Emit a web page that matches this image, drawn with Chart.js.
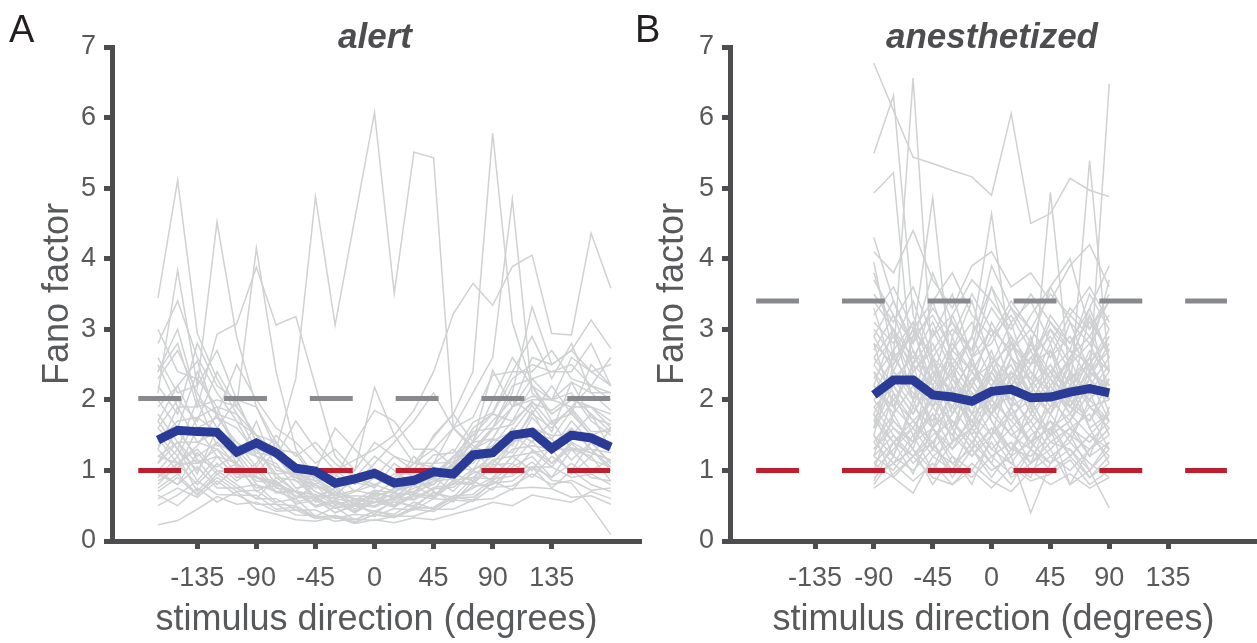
<!DOCTYPE html>
<html><head><meta charset="utf-8">
<script src="https://cdn.jsdelivr.net/npm/chart.js@4.4.1/dist/chart.umd.min.js"></script>
<style>
html,body{margin:0;padding:0;background:#fff;width:1257px;height:643px;overflow:hidden;}
canvas{position:absolute;top:0;}
#cA{left:0;}
#cB{left:648px;}
.lbl{position:absolute;font-family:"Liberation Sans",Arial,Helvetica,sans-serif;white-space:nowrap;line-height:1;}
.ttl{font-weight:bold;font-style:italic;font-size:35px;color:#4d4d4f;width:400px;text-align:center;}
.pan{font-size:38px;color:#231f20;}
</style></head><body>
<canvas id="cA" width="648" height="643"></canvas>
<canvas id="cB" width="609" height="643"></canvas>
<div class="lbl pan" style="left:9px;top:10px;">A</div>
<div class="lbl pan" style="left:635px;top:10px;">B</div>
<div class="lbl ttl" style="left:175px;top:18px;">alert</div>
<div class="lbl ttl" style="left:792px;top:18px;">anesthetized</div>
<script>
// ---------------- data ----------------
const xTickValues = [-135, -90, -45, 0, 45, 90, 135];
const yTickValues = [0, 1, 2, 3, 4, 5, 6, 7];
const refDirs = [-180, 180];

const dirsAlert = [-165,-150,-135,-120,-105,-90,-75,-60,-45,-30,-15,0,15,30,45,60,75,90,105,120,135,150,165,180];
const meanAlert = [1.43,1.57,1.55,1.54,1.26,1.39,1.25,1.03,0.99,0.82,0.88,0.96,0.82,0.86,0.98,0.95,1.22,1.25,1.50,1.54,1.31,1.50,1.46,1.33];
const spontAlert = [2.02, 2.02];
const poissonAlert = [1.0, 1.0];

const dirsAnes = [-90,-75,-60,-45,-30,-15,0,15,30,45,60,75,90];
const meanAnes = [2.07,2.28,2.28,2.07,2.04,1.98,2.12,2.15,2.03,2.04,2.11,2.16,2.10];
const spontAnes = [3.40, 3.40];
const poissonAnes = [1.0, 1.0];

const cellsAlert = [
  [1.35,1.55,1.20,1.40,1.05,0.95,1.30,2.30,4.88,3.06,4.57,6.07,3.51,5.51,5.43,1.60,1.35,1.20,1.50,1.30,1.10,1.40,1.25,1.15],
  [1.90,2.20,1.60,1.75,1.40,1.20,1.05,0.90,0.80,1.00,1.15,1.30,1.50,1.85,2.40,3.22,3.65,3.34,3.89,4.05,2.94,2.92,4.36,3.58],
  [3.44,5.11,2.94,2.30,1.80,1.50,1.20,0.95,0.70,0.60,0.55,0.65,0.70,0.80,0.90,1.10,1.40,1.70,2.00,1.80,1.60,1.90,2.20,2.00],
  [2.10,3.84,2.20,4.52,2.89,1.90,1.40,1.00,0.80,0.65,0.60,0.55,0.60,0.75,0.85,1.00,1.30,1.60,1.90,2.30,2.00,2.10,1.70,1.50],
  [1.60,2.00,1.70,2.40,1.90,4.15,2.40,1.30,0.90,0.70,0.60,0.60,0.65,0.70,0.90,1.20,1.50,1.80,1.70,2.20,1.80,2.00,1.90,1.60],
  [2.40,2.80,1.90,2.93,3.08,3.88,3.06,3.18,2.20,1.20,0.90,0.80,0.70,0.85,0.95,1.20,1.40,2.42,1.90,2.60,2.50,2.70,3.13,2.73],
  [1.20,1.40,1.10,1.30,1.10,0.90,0.80,0.70,0.60,0.75,1.00,2.18,1.50,1.10,1.47,1.80,2.40,5.78,3.10,2.20,1.70,1.80,1.50,1.40],
  [0.90,1.10,1.30,1.00,0.95,0.90,0.80,0.70,0.65,0.60,0.70,0.80,0.90,1.10,1.30,1.60,2.10,2.60,4.84,2.10,1.80,2.00,1.90,1.70],
  [0.23,0.29,0.45,0.63,0.52,0.55,0.42,0.44,0.32,0.36,0.30,0.42,0.35,0.46,0.48,0.64,0.66,0.88,0.92,1.12,0.86,0.82,0.48,0.09],
  [2.80,3.40,2.60,2.10,1.70,1.50,1.20,0.90,0.70,0.55,0.50,0.55,0.60,0.70,0.80,1.10,1.30,1.60,2.10,3.32,2.50,2.70,2.40,2.20],
  [1.00,0.80,1.25,0.95,1.10,0.70,0.85,0.55,0.62,0.40,0.52,0.38,0.58,0.47,0.70,0.55,0.85,0.72,1.05,1.20,0.90,1.30,1.00,1.15],
  [1.50,1.20,1.75,1.90,1.30,1.20,0.80,0.95,0.55,0.70,0.45,0.65,0.50,0.80,0.62,0.95,0.85,1.30,1.25,1.75,1.45,1.85,1.50,1.60],
  [0.70,0.90,0.65,0.95,0.75,0.80,0.55,0.60,0.35,0.48,0.30,0.42,0.38,0.55,0.45,0.62,0.58,0.85,0.72,1.05,0.75,1.00,0.80,0.70],
  [2.00,1.60,2.40,1.80,1.70,1.20,1.10,0.75,0.80,0.50,0.60,0.55,0.75,0.68,1.00,1.05,1.55,1.60,2.20,2.30,2.40,2.50,2.20,2.60],
  [1.10,1.40,0.95,1.60,1.10,1.70,1.00,0.95,0.62,0.75,0.50,0.70,0.60,0.85,0.72,1.05,1.00,1.45,1.35,1.85,1.30,1.70,1.40,1.35],
  [0.85,1.05,1.15,0.80,1.05,0.75,0.78,0.52,0.58,0.40,0.50,0.42,0.55,0.50,0.68,0.62,0.90,0.88,1.20,1.25,1.30,0.95,1.20,0.85],
  [2.60,2.10,2.20,2.70,2.00,1.90,1.30,1.25,0.85,0.95,0.70,0.90,0.85,1.10,1.10,1.60,1.75,2.35,2.40,2.90,2.30,2.80,2.10,2.10],
  [1.30,1.90,1.40,1.30,0.95,1.00,0.70,0.70,0.50,0.58,0.42,0.60,0.50,0.68,0.62,0.85,0.82,1.15,1.20,1.55,1.25,1.60,1.30,1.25],
  [0.60,0.75,0.62,0.85,0.65,0.65,0.45,0.48,0.32,0.36,0.26,0.38,0.33,0.45,0.42,0.58,0.56,0.76,0.78,0.95,0.80,0.86,0.72,0.75],
  [1.70,2.20,2.55,1.75,1.60,1.25,1.20,0.95,1.00,0.90,1.40,1.85,1.70,1.30,1.30,1.05,1.40,1.45,1.90,2.05,2.00,2.25,2.10,1.85],
  [1.00,1.30,0.85,1.20,0.90,0.92,0.68,0.70,0.48,0.55,0.40,0.56,0.48,0.64,0.60,0.82,0.80,1.08,1.10,1.42,1.10,1.32,1.25,1.15],
  [2.20,1.80,2.80,2.20,2.00,1.40,1.30,0.95,0.90,0.65,0.72,0.66,0.85,0.82,1.10,1.12,1.60,1.80,2.30,2.50,2.40,2.40,2.80,2.20],
  [0.80,1.10,0.80,1.10,0.85,1.05,0.75,0.70,0.50,0.58,0.42,0.56,0.50,0.65,0.64,0.86,0.90,1.15,0.95,1.28,1.05,1.38,1.15,1.05],
  [1.40,1.70,1.75,1.55,1.20,1.30,0.95,0.98,0.75,0.78,0.58,0.72,0.68,0.90,0.88,1.18,1.25,1.58,1.65,1.98,1.65,1.88,1.55,1.55],
  [1.80,1.40,1.40,1.55,1.40,1.05,1.40,0.95,0.85,0.65,0.88,0.90,1.20,1.10,1.05,0.85,1.20,1.35,1.70,1.95,1.85,2.05,1.80,1.55],
  [0.95,0.80,1.05,0.75,0.75,0.60,0.60,0.44,0.44,0.32,0.38,0.35,0.46,0.44,0.60,0.58,0.78,0.80,1.02,1.05,1.05,0.90,0.95,0.80],
  [1.20,1.10,1.35,1.80,1.30,1.30,0.90,0.86,0.62,0.66,0.52,0.68,0.62,0.82,0.80,1.05,1.10,1.42,1.55,1.92,1.55,2.25,1.75,1.65],
  [2.50,1.90,1.90,2.00,1.90,1.50,1.40,1.00,0.95,0.78,0.82,0.78,0.95,0.95,1.22,1.25,1.68,1.82,2.40,2.40,2.70,2.30,2.20,2.10],
  [0.75,0.95,0.66,0.90,0.70,0.72,0.52,0.50,0.34,0.36,0.27,0.37,0.34,0.48,0.46,0.62,0.62,0.82,0.85,1.05,0.90,1.10,0.90,0.85],
  [1.60,1.30,2.00,1.35,1.30,1.00,0.95,0.70,0.66,0.52,0.58,0.54,0.68,0.66,0.85,0.88,1.15,1.20,1.50,1.60,1.50,1.50,1.80,1.30],
  [1.10,1.60,1.15,1.05,1.25,0.90,0.85,0.64,0.62,0.48,0.54,0.50,0.62,0.60,0.76,0.80,1.02,1.10,1.40,1.50,1.45,1.15,1.40,1.10],
  [0.50,0.65,0.85,0.66,0.65,0.52,0.52,0.37,0.36,0.28,0.31,0.29,0.35,0.35,0.45,0.45,0.58,0.60,0.74,0.76,0.74,0.62,0.64,0.52],
  [3.00,2.40,2.30,1.90,1.80,1.30,1.20,0.85,0.80,0.62,0.64,0.62,0.74,0.78,0.96,1.02,1.30,1.45,1.90,2.00,2.00,1.90,1.90,1.80],
  [1.45,1.10,1.10,1.20,1.10,0.85,0.82,0.62,0.60,0.46,0.52,0.48,0.60,0.58,0.74,0.76,0.96,1.04,1.30,1.35,1.30,1.30,1.30,1.05],
  [1.30,1.00,1.60,1.20,0.90,1.10,1.50,1.20,1.40,1.10,0.90,1.20,1.00,0.80,1.10,1.30,1.00,1.20,1.60,1.40,1.70,1.30,1.20,1.60],
  [0.90,1.20,0.70,1.00,0.80,0.60,0.90,0.70,1.00,1.60,1.30,1.00,0.80,1.20,0.90,0.70,1.00,0.85,1.10,0.90,1.20,1.00,1.40,1.10],
  [2.30,2.70,2.10,1.60,2.00,1.40,1.20,1.70,1.30,1.00,0.80,1.10,1.40,1.70,2.10,1.60,1.30,1.00,1.40,1.80,2.20,1.80,2.50,2.20],
  [1.70,1.30,1.00,1.40,1.20,0.80,0.70,0.60,0.80,0.65,0.90,0.75,1.10,0.90,0.70,0.60,0.75,0.90,1.20,1.00,1.35,1.60,1.30,1.00],
  [0.65,0.50,0.75,0.55,0.70,0.45,0.38,0.30,0.28,0.34,0.25,0.30,0.26,0.33,0.30,0.38,0.45,0.55,0.50,0.65,0.60,0.55,0.70,0.60],
  [2.40,3.00,2.00,1.80,2.50,2.00,1.60,1.40,1.10,1.30,1.00,1.40,1.20,1.00,1.50,1.80,1.40,2.00,2.60,2.20,2.00,2.60,2.40,2.50]
];

const cellsAnes = [
  [6.77,6.10,5.44,5.35,5.25,5.16,4.90,6.06,4.50,4.64,5.14,4.97,4.88],
  [5.49,6.31,3.20,2.50,2.10,2.60,1.90,2.30,2.80,2.20,1.80,2.40,2.10],
  [3.95,2.60,6.56,2.40,1.80,2.20,2.70,1.90,2.10,2.50,2.00,1.70,2.30],
  [4.93,5.22,2.30,1.90,2.50,1.60,2.10,2.40,1.80,2.20,2.60,1.90,1.60],
  [2.20,1.80,2.90,4.86,2.30,1.80,2.40,2.00,1.70,2.20,1.90,2.50,2.10],
  [1.80,2.40,2.10,1.70,2.30,2.90,4.64,2.60,2.10,1.80,2.40,2.00,1.70],
  [2.10,1.90,2.50,2.20,1.60,2.00,2.40,2.90,1.90,4.94,2.30,2.60,3.70],
  [1.60,2.20,1.80,2.30,1.90,2.40,2.00,1.70,2.20,2.50,2.10,5.39,2.40],
  [2.50,2.10,1.70,2.00,2.60,2.20,1.80,2.30,2.70,2.10,1.90,2.30,6.48],
  [1.20,1.50,1.10,1.40,0.90,1.30,1.00,1.20,0.40,1.10,1.30,0.90,1.20],
  [0.90,1.10,1.30,0.80,1.20,1.00,1.40,0.90,1.10,1.30,0.80,1.00,0.47],
  [1.50,0.90,0.68,1.20,1.00,1.40,1.10,0.80,1.30,1.00,1.20,0.90,1.10],
  [3.10,2.80,3.40,2.60,3.00,2.70,3.30,2.90,2.50,3.20,2.80,3.10,2.70],
  [2.70,3.20,2.50,2.90,3.50,2.60,2.80,3.30,3.00,2.60,3.20,2.90,3.40],
  [1.40,1.80,2.20,1.60,1.90,1.50,2.00,1.70,1.40,1.90,2.20,1.60,1.80],
  [2.00,1.60,1.40,1.90,1.50,2.10,1.70,1.30,1.80,1.50,1.70,2.10,1.50],
  [1.70,2.30,1.90,2.60,2.00,1.70,2.20,2.50,1.90,2.30,1.80,2.20,2.60],
  [2.90,2.40,2.00,2.30,2.80,2.40,2.00,2.60,2.30,1.90,2.50,2.80,2.20],
  [1.10,1.40,1.70,1.30,1.60,1.20,1.50,1.80,1.40,1.10,1.50,1.30,1.60],
  [2.30,2.70,3.10,2.40,2.10,2.60,3.00,2.20,2.60,2.90,2.40,2.10,2.50],
  [1.90,1.50,1.20,1.60,2.10,1.70,1.30,1.60,1.90,1.40,1.60,1.80,1.30],
  [3.40,3.00,2.60,3.10,2.50,2.90,3.60,3.10,3.40,2.80,3.30,3.00,3.50],
  [0.80,1.20,1.00,1.30,1.10,0.90,1.20,1.40,1.00,1.20,1.40,1.10,0.90],
  [2.60,2.20,2.70,2.00,2.40,2.90,2.30,2.00,2.50,2.70,2.20,2.50,2.90],
  [1.30,1.70,1.40,1.80,1.30,1.60,1.90,1.50,1.70,1.30,1.60,1.40,1.70],
  [2.40,2.00,2.40,2.80,2.20,1.90,2.60,2.30,2.00,2.40,2.70,2.30,2.00],
  [1.00,1.30,1.60,1.20,1.40,1.70,1.30,1.10,1.50,1.70,1.20,1.50,1.30],
  [3.70,3.20,2.80,3.30,2.90,3.50,3.00,2.70,3.20,3.60,3.10,2.80,3.20],
  [1.60,2.00,1.70,1.40,1.80,2.20,1.80,2.10,1.60,1.90,2.30,1.90,2.00],
  [2.80,2.50,3.00,2.60,2.30,2.00,2.50,2.80,2.40,2.10,2.60,2.90,2.40],
  [1.20,1.00,1.40,1.60,1.10,1.30,0.90,1.30,1.60,1.20,1.00,1.30,1.50],
  [2.10,2.60,2.20,1.90,2.50,2.10,1.80,2.20,2.60,2.30,2.00,2.40,2.20],
  [1.80,1.40,1.60,2.00,1.70,1.40,1.80,1.50,1.30,1.70,1.50,1.90,1.70],
  [3.20,3.60,3.00,3.40,3.80,3.20,2.90,3.40,3.00,3.50,3.20,3.60,3.10],
  [0.95,1.10,0.85,1.10,0.80,1.00,0.75,1.05,0.85,0.95,1.15,0.80,1.00],
  [2.50,2.90,2.30,2.10,2.70,3.10,2.60,2.30,2.80,2.40,2.10,2.70,2.40],
  [1.50,1.20,1.90,1.60,1.30,1.80,1.50,1.90,1.40,1.60,1.80,1.50,1.20],
  [2.20,1.90,1.60,2.10,2.40,2.00,2.30,1.80,2.00,2.40,1.90,1.70,2.10],
  [4.10,3.80,4.40,3.70,3.30,3.90,4.10,3.60,3.80,3.40,3.90,4.20,3.60],
  [1.30,1.60,1.30,1.00,1.40,1.60,1.20,1.40,1.10,1.40,1.30,1.00,1.40],
  [2.00,2.30,2.60,2.30,1.90,2.30,2.50,2.10,2.40,2.00,2.30,2.50,2.00],
  [1.70,1.40,1.20,1.50,1.70,1.30,1.60,1.20,1.40,1.60,1.20,1.50,1.80],
  [3.00,2.60,2.90,3.20,2.70,2.40,2.90,3.20,2.70,3.00,2.70,2.50,3.00],
  [0.75,0.95,1.20,0.90,0.80,1.10,0.85,0.70,1.00,0.80,0.95,0.75,0.90],
  [1.90,2.20,1.80,2.40,2.10,1.80,2.00,2.40,2.10,1.80,2.20,2.00,2.30],
  [3.50,3.10,3.60,2.90,3.20,3.70,3.40,3.00,3.50,3.10,2.80,3.30,3.90],
  [2.60,3.00,2.40,2.70,3.10,2.50,2.20,2.70,3.00,2.60,2.90,2.40,2.70],
  [1.40,1.10,1.50,1.80,1.50,1.20,1.60,1.30,1.20,1.50,1.70,1.20,1.40],
  [1.00,1.80,1.30,2.20,1.40,2.60,1.70,1.20,2.00,1.50,2.40,1.60,1.10],
  [2.80,1.90,2.50,1.60,2.90,2.00,1.50,2.40,1.80,2.70,1.90,2.30,1.70],
  [1.20,2.10,1.50,1.00,1.70,1.30,2.20,1.60,1.10,1.80,1.40,2.00,2.40],
  [3.30,2.40,3.00,2.20,2.70,3.40,2.50,1.90,2.80,2.30,3.10,2.40,2.90],
  [0.85,1.40,0.95,1.60,1.20,0.80,1.50,1.10,0.90,1.60,0.80,1.30,1.60],
  [2.20,3.00,2.00,2.60,1.80,2.50,2.00,2.80,2.20,1.80,2.60,3.20,2.00],
  [1.50,2.50,3.10,1.90,2.20,1.60,2.40,1.90,2.90,2.00,1.70,2.30,2.80],
  [3.80,2.90,2.50,3.40,2.60,2.20,3.10,2.60,2.30,3.00,2.50,3.30,2.60],
  [1.80,1.20,2.00,1.30,2.20,1.50,1.10,1.90,1.30,2.10,1.60,1.20,1.90],
  [2.40,1.70,1.40,2.60,1.60,2.30,1.80,2.60,2.00,1.50,2.00,2.60,1.80],
  [1.10,0.90,1.20,1.40,1.00,1.60,1.20,0.95,1.30,1.10,1.50,1.00,1.30],
  [2.90,3.40,2.70,2.30,3.20,2.60,3.60,2.80,2.50,3.10,2.70,3.50,3.00],
  [1.60,2.70,2.00,3.00,2.40,1.80,2.50,3.10,2.20,2.80,2.00,3.20,2.60],
  [4.30,3.40,2.80,3.80,3.10,2.70,3.90,3.30,2.80,3.60,4.00,3.00,3.40]
];

// ---------------- style ----------------
const FONT = '"Liberation Sans", Arial, Helvetica, sans-serif';
const AXIS = '#4d4d4f';
const TEXT = '#58595b';
const CELL = '#cfd1d2';
const MEAN = '#2a3a97';
const SPONT = '#88898c';
const POIS = '#be1e2d';

function pts(xs, ys) { return xs.map((x, i) => ({x: x, y: ys[i]})); }

function build(canvasId, dirs, cells, mean, spont, pois, yAxisWidth, yTitlePad, padRight) {
  const datasets = [];
  datasets.push({data: pts(dirs, mean), borderColor: MEAN, borderWidth: 9, order: 0, borderJoinStyle: 'miter'});
  datasets.push({data: pts(refDirs, pois), borderColor: POIS, borderWidth: 5, borderDash: [42.9, 42.9], order: 1});
  datasets.push({data: pts(refDirs, spont), borderColor: SPONT, borderWidth: 5, borderDash: [42.9, 42.9], order: 1});
  cells.forEach(c => datasets.push({data: pts(dirs, c), borderColor: CELL, borderWidth: 1.5, order: 2}));
  datasets.forEach(d => { d.pointRadius = 0; d.fill = false; d.tension = 0; });

  return new Chart(document.getElementById(canvasId), {
    type: 'line',
    data: {datasets: datasets},
    options: {
      responsive: false, animation: false, events: [],
      layout: {padding: {left: 0, right: padRight, top: 47, bottom: 0}},
      plugins: {legend: {display: false}, tooltip: {enabled: false}, title: {display: false}},
      scales: {
        x: {
          type: 'linear', min: -200, max: 203,
          afterBuildTicks: s => { s.ticks = xTickValues.map(v => ({value: v})); },
          afterFit: s => { s.height = 102; },
          ticks: {autoSkip: false, maxRotation: 0, padding: 13, color: TEXT,
                  font: {family: FONT, size: 27}, callback: v => String(v)},
          grid: {drawOnChartArea: false, drawTicks: true, tickLength: 8, tickWidth: 5, tickColor: AXIS},
          border: {display: true, color: AXIS, width: 5},
          title: {display: true, text: 'stimulus direction (degrees)', color: TEXT,
                  font: {family: FONT, size: 36}, padding: {top: 0, bottom: 1}}
        },
        y: {
          min: 0, max: 7,
          afterBuildTicks: s => { s.ticks = yTickValues.map(v => ({value: v})); },
          afterFit: s => { s.width = yAxisWidth; },
          ticks: {padding: 8, color: TEXT, font: {family: FONT, size: 27}, callback: v => String(v)},
          grid: {drawOnChartArea: false, drawTicks: true, tickLength: 8, tickWidth: 5, tickColor: AXIS},
          border: {display: true, color: AXIS, width: 5},
          title: {display: true, text: 'Fano factor', color: TEXT,
                  font: {family: FONT, size: 36}, padding: {top: yTitlePad, bottom: 0}}
        }
      }
    }
  });
}

build('cA', dirsAlert, cellsAlert, meanAlert, spontAlert, poissonAlert, 112, 36, 7);
build('cB', dirsAnes, cellsAnes, meanAnes, spontAnes, poissonAnes, 82, 3, 0);
</script>
</body></html>
